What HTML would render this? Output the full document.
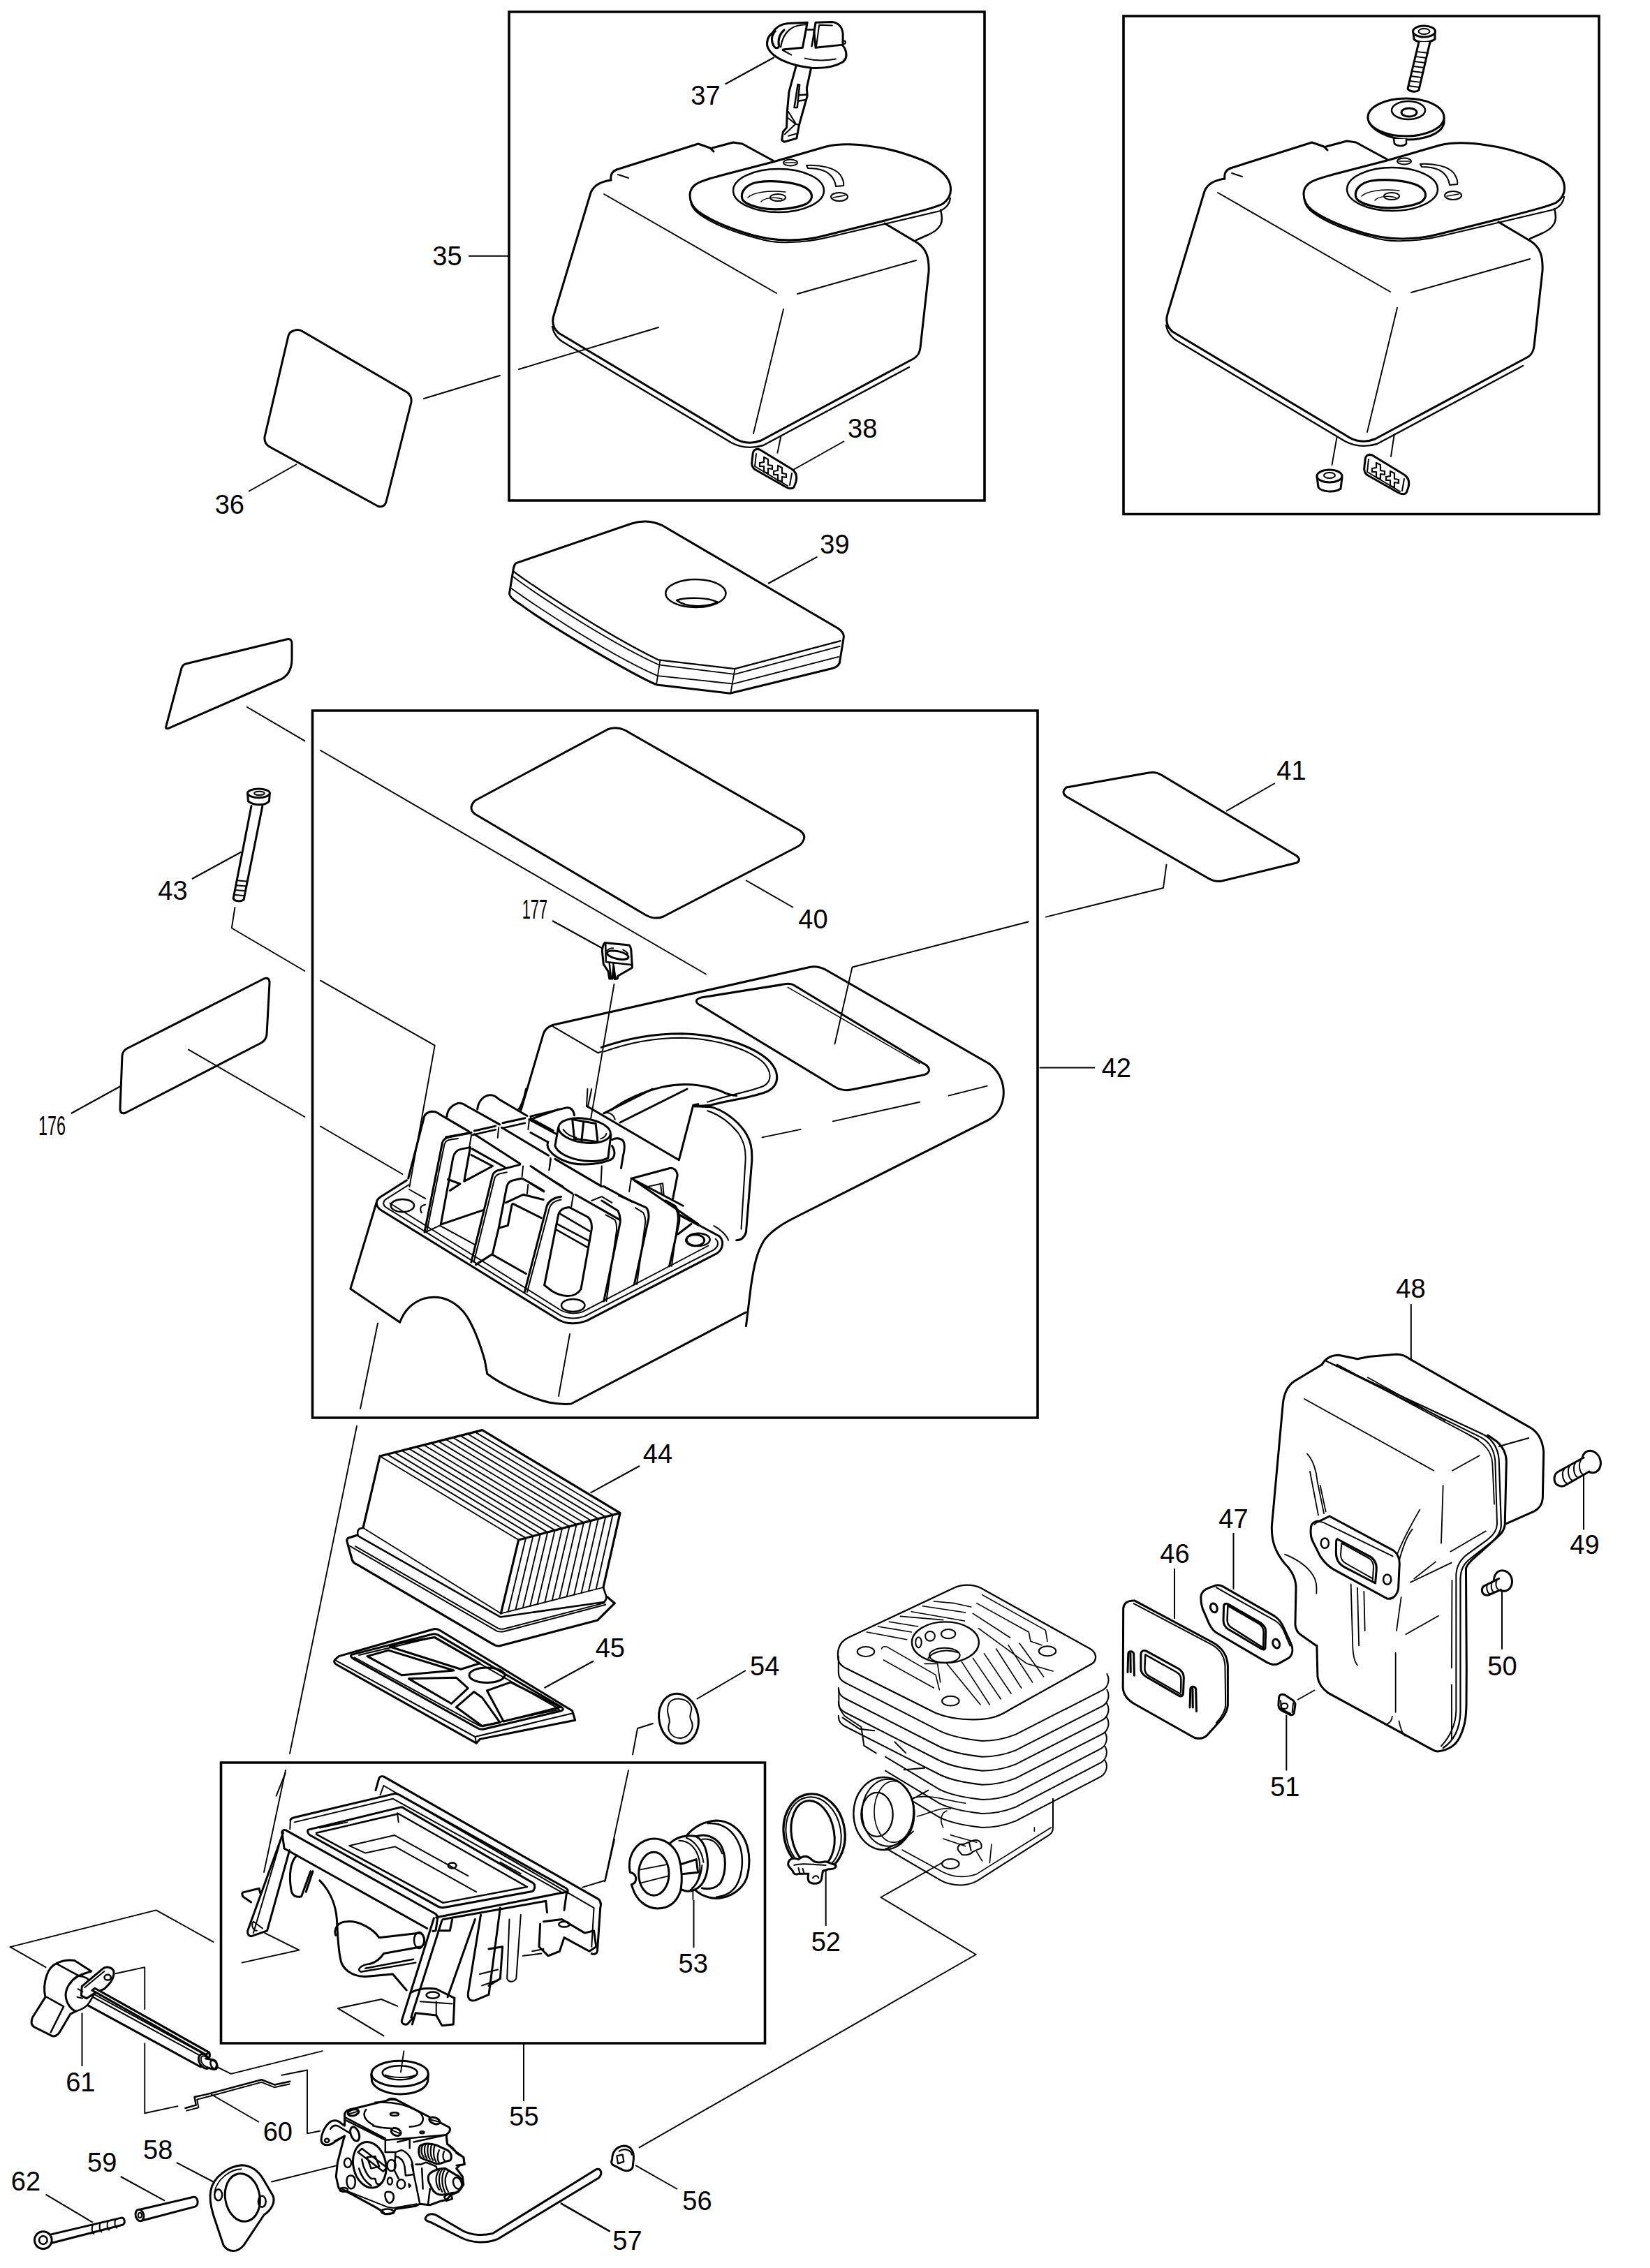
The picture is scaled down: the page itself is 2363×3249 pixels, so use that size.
<!DOCTYPE html><html><head><meta charset="utf-8"><style>html,body{margin:0;padding:0;background:#fff;}body{width:2363px;height:3249px;overflow:hidden;}svg{display:block;}.t{font-family:"Liberation Sans",sans-serif;font-size:38px;fill:#000;}path,line,ellipse,circle,polyline,polygon,rect{vector-effect:non-scaling-stroke;}</style></head><body>
<svg width="2363" height="3249" viewBox="0 0 2363 3249">
<rect x="0" y="0" width="2363" height="3249" fill="#fff"/>
<g fill="none" stroke="#000" stroke-width="3.6">
<rect x="729" y="17" width="681" height="700"/>
<rect x="1609" y="23" width="681" height="713.5"/>
<rect x="447.5" y="1018" width="1038.5" height="1013"/>
<rect x="316.5" y="2525" width="779.0" height="402"/>
</g>
<g stroke="#000" stroke-width="2" fill="none">
<line x1="671" y1="366.7" x2="728" y2="366.7"/>
<line x1="356" y1="704" x2="425" y2="665"/>
<line x1="1038.6" y1="120.5" x2="1109" y2="82"/>
<line x1="1209" y1="632" x2="1136" y2="673"/>
<line x1="1170.5" y1="797.7" x2="1100" y2="836"/>
<line x1="1136" y1="1300" x2="1068" y2="1261"/>
<line x1="1825.8" y1="1122" x2="1756" y2="1162"/>
<line x1="1488.6" y1="1529.5" x2="1568" y2="1529.5"/>
<line x1="275" y1="1259" x2="345.5" y2="1220.5"/>
<line x1="791" y1="1319" x2="863.6" y2="1359"/>
<line x1="101.8" y1="1595" x2="172.7" y2="1556"/>
<line x1="916" y1="2100" x2="845.5" y2="2138.6"/>
<line x1="850" y1="2379.5" x2="779.5" y2="2418"/>
<line x1="1682" y1="2247" x2="1682" y2="2319"/>
<line x1="1766.5" y1="2196" x2="1766.5" y2="2277"/>
<line x1="2020.8" y1="1868" x2="2020.8" y2="1949"/>
<line x1="2268" y1="2110.7" x2="2268" y2="2191.6"/>
<line x1="2151" y1="2277" x2="2151" y2="2362.7"/>
<line x1="1842.3" y1="2456.8" x2="1842.3" y2="2536.4"/>
<line x1="1182.7" y1="2672.7" x2="1182.7" y2="2759"/>
<line x1="993.5" y1="2722" x2="993.5" y2="2790"/>
<line x1="1068" y1="2393" x2="997.7" y2="2434"/>
<line x1="750" y1="2927" x2="750" y2="3010"/>
<line x1="970" y1="3136" x2="910" y2="3101.8"/>
<line x1="873" y1="3196.7" x2="803" y2="3156.7"/>
<line x1="252.7" y1="3098" x2="305.5" y2="3125.5"/>
<line x1="172.7" y1="3118" x2="236" y2="3152.7"/>
<line x1="371" y1="3040" x2="302" y2="3000"/>
<line x1="117.5" y1="2883.6" x2="117.5" y2="2960"/>
<line x1="65.5" y1="3143.6" x2="132.7" y2="3183.6"/>
</g>
<defs>
<g id="cover" fill="none" stroke="#000" stroke-linejoin="round" stroke-linecap="round">
 <!-- body outline -->
 <path stroke-width="3" d="M 883,243 L 1000,206 L 1017,212 L 1022,217 M 1020,212 L 1050,204 L 1063,206 L 1107,230"/>
 <path stroke-width="3" d="M 883,243 C 876,246 874,252 875,258 C 860,260 850,266 846,276 L 793,452 C 790,462 792,470 800,477 L 1049,626 C 1060,634 1075,637 1090,631 L 1308,514 C 1315,510 1317,505 1318,498 L 1330,390 C 1331,368 1326,356 1314,348 L 1267,320"/>
 <path stroke-width="2.4" d="M 791,468 C 793,479 799,486 808,491 L 1047,634 C 1060,641 1076,643 1093,638 L 1302,526"/>
 <!-- back right part -->
 <path stroke-width="2.5" d="M 1347,301 C 1349,308 1350,316 1347,322 C 1343,329 1338,332 1330,336 L 1312,344"/>
 <!-- plate -->
 <path stroke-width="3" fill="#fff" d="M 988,280 C 988,272 992,266 1000,262 C 1010,257 1020,255 1030,252 L 1107,232 L 1183,210 C 1200,206 1225,206 1250,210 C 1275,213 1300,221 1320,229 C 1340,237 1356,250 1360,262 C 1364,275 1360,285 1350,292 C 1340,298 1300,307 1267,316 L 1183,337 C 1165,342 1150,344 1130,344 C 1110,344 1085,340 1065,333 C 1040,325 1015,314 1000,303 C 991,296 988,288 988,280 Z"/>
 <path stroke-width="2.2" d="M 989,288 C 990,296 995,302 1002,307 C 1020,320 1045,331 1083,341 C 1100,346 1115,348 1130,347 C 1150,347 1170,344 1190,339 L 1347,302 C 1355,298 1360,292 1361,284"/>
 <ellipse stroke-width="2.5" cx="1115" cy="273" rx="65" ry="31"/>
 <path stroke-width="3.2" d="M 1063,285 C 1060,275 1068,264 1085,261 C 1105,258 1135,260 1152,268 C 1165,275 1166,285 1155,292 C 1140,299 1110,302 1090,298 C 1075,295 1065,290 1063,285 Z"/>
 <path stroke-width="1.5" d="M 1071,283 C 1078,276 1100,272 1125,275 M 1090,289 C 1095,283 1110,282 1120,285"/>
 <ellipse stroke-width="2" cx="1114" cy="283" rx="11" ry="5"/>
 <ellipse stroke-width="2" cx="1132" cy="233" rx="10" ry="4.5"/>
 <line stroke-width="1.5" x1="1124" y1="233" x2="1140" y2="233"/>
 <ellipse stroke-width="2" cx="1202" cy="282" rx="12" ry="6"/>
 <line stroke-width="1.5" x1="1193" y1="283" x2="1210" y2="280"/>
 <path stroke-width="2" d="M 1155,237 C 1175,236 1195,240 1203,250 C 1207,256 1209,262 1208,266 L 1197,267 C 1196,258 1190,248 1178,244 C 1170,241 1163,241 1157,241 Z"/>
 <!-- creases -->
 <path stroke-width="1.9" d="M 865,278 L 1112,420 M 1142,421 L 1312,373 M 1122,443 L 1079,621 M 885,250 L 900,255"/>
</g>
</defs>
<use href="#cover"/>
<use href="#cover" transform="translate(879,-2)"/>

<g transform="translate(1090,20) scale(0.084848)" fill="none" stroke="#000" stroke-linejoin="round" stroke-linecap="round">
 <path stroke-width="3" d="M 240,290 C 160,330 100,400 100,500 C 100,600 200,700 350,780 C 500,850 650,890 850,910 C 1050,920 1250,890 1380,810 C 1440,760 1450,680 1420,600 C 1405,560 1390,545 1375,530"/>
 <path stroke-width="3" d="M 190,320 C 250,220 330,170 450,160 L 780,145 L 700,570 L 370,600"/>
 <path stroke-width="2.2" d="M 760,180 C 550,185 380,260 330,560"/>
 <path stroke-width="3" d="M 220,310 C 170,380 170,480 220,550 C 250,590 300,580 300,540 C 280,420 320,330 390,270"/>
 <path stroke-width="2.5" d="M 780,265 L 895,265 M 900,280 L 855,545"/>
 <path stroke-width="3" d="M 895,300 L 920,145 L 1200,135 C 1310,150 1370,230 1380,330 L 1380,520 L 920,570 L 895,300"/>
 <path stroke-width="2" d="M 980,190 L 930,560 M 990,185 L 1200,195"/>
 <path stroke-width="2" d="M 360,610 L 510,690 M 740,750 C 900,790 1100,790 1260,760"/>
 <circle stroke-width="2" cx="1400" cy="480" r="25"/>
 <path stroke-width="3" d="M 590,880 L 480,1280 L 470,1320 L 440,1650 L 430,1920 L 370,1990 L 350,2130 L 390,2160 L 600,2100 L 640,1880 L 780,1380 L 770,1250 L 840,930"/>
 <path stroke-width="2.5" d="M 560,1580 L 620,1190 L 650,1195 L 610,1580 Z M 630,1370 L 770,1360 M 620,1470 L 760,1450"/>
 <path stroke-width="2" d="M 460,1650 L 590,1860 L 620,1870 M 460,1760 L 580,1860 L 400,2030 M 460,2060 L 600,2020"/>
</g>

<g fill="none" stroke="#000" stroke-linejoin="round" stroke-linecap="round">
 <!-- sheet 36 -->
 <path stroke-width="3" d="M 420,474 Q 426,471 432,474 L 583,562 Q 590,567 589,576 L 553,719 Q 550,728 541,725 L 386,640 Q 378,635 379,626 L 413,481 Q 415,475 420,474 Z"/>
 <!-- leaders through box A -->
 <path stroke-width="1.9" d="M 607,571 L 716,538 M 743,529 L 943,469"/>
 <path stroke-width="1.9" d="M 1118.5,624.5 L 1113.4,648.7"/>
 <!-- small sheet upper left -->
 <path stroke-width="3" d="M 266,951 L 410,916 Q 418,914 418,922 L 418,944 Q 418,968 398,975 L 242,1043 Q 236,1045 238,1040 L 260,957 Q 262,952 266,951 Z"/>
 <path stroke-width="1.9" d="M 353.6,1012.7 L 436.4,1061.4 M 459,1075 L 1011,1395.5"/>
 <!-- bolt 43 leaders -->
 <path stroke-width="1.9" d="M 336.4,1300 L 331.8,1329.5 L 436.4,1391 M 459,1404.7 L 622.7,1497.7 L 586.4,1700"/>
 <!-- sheet 176 -->
 <path stroke-width="3" d="M 182,1502 L 378,1402 Q 386,1399 386,1408 L 382,1482 Q 381,1490 374,1494 L 180,1594 Q 172,1597 172,1588 L 175,1512 Q 176,1505 182,1502 Z"/>
 <path stroke-width="1.9" d="M 270,1503.6 L 436.4,1600 M 459,1613.5 L 576.4,1682"/>
 <!-- sheet 40 -->
 <path stroke-width="3" d="M 680,1147 L 870,1045 Q 882,1040 895,1046 L 1146,1190 Q 1155,1197 1150,1205 Q 1148,1210 1140,1214 L 950,1313 Q 938,1318 925,1311 L 680,1166 Q 670,1158 680,1147 Z"/>
 <!-- sheet 41 -->
 <path stroke-width="3" d="M 1527,1128 L 1645,1107 Q 1655,1105 1663,1110 L 1857,1226 Q 1864,1232 1857,1236 L 1750,1262 Q 1740,1264 1730,1258 L 1527,1141 Q 1519,1135 1527,1128 Z"/>
 <path stroke-width="1.9" d="M 1670.5,1238.6 L 1666,1272 L 1497.7,1313.6 M 1472.7,1320.5 L 1220.5,1385.5 L 1195.5,1495.5"/>
 <!-- 177 leader down -->
 <path stroke-width="1.9" d="M 879.5,1410 L 841,1632"/>
</g>

<g transform="translate(700,700) scale(0.454545)" fill="none" stroke="#000" stroke-linejoin="round" stroke-linecap="round">
 <path stroke-width="3" d="M 85,235 L 450,110 C 480,100 510,100 545,115 L 1100,440 C 1115,450 1120,460 1118,470 L 1105,550 C 1100,560 1090,565 1080,567 L 760,645 L 530,618 C 480,600 200,440 100,365 C 75,350 65,340 65,330 L 78,250 C 80,242 82,238 85,235 Z"/>
 <path stroke-width="2.2" d="M 80,262 C 100,280 350,450 535,540 L 775,568 L 1108,480"/>
 <path stroke-width="1.8" d="M 78,278 C 100,298 350,470 535,555 L 775,585 L 1106,497"/>
 <path stroke-width="1.8" d="M 72,315 C 100,335 350,510 532,590 L 770,615 L 1102,530"/>
 <path stroke-width="1.8" d="M 540,540 L 528,618 M 775,570 L 762,645"/>
 <ellipse stroke-width="2.5" cx="652" cy="330" rx="95" ry="44"/>
 <path stroke-width="2.5" d="M 592,352 C 620,342 690,342 720,357 C 690,375 620,375 592,352 Z"/>
</g>
<g transform="translate(150,700) scale(0.454545)" fill="none" stroke="#000" stroke-linejoin="round" stroke-linecap="round">
 <!-- bolt 43 -->
 <ellipse stroke-width="3" cx="485" cy="960" rx="35" ry="14"/>
 <ellipse stroke-width="2" cx="487" cy="960" rx="16" ry="6"/>
 <path stroke-width="3" d="M 450,960 L 452,985 C 470,1000 505,1000 518,985 L 520,960"/>
 <path stroke-width="3" d="M 462,1000 L 405,1292 C 412,1302 430,1302 438,1295 L 497,1000"/>
 <path stroke-width="2" d="M 417,1235 L 450,1238 M 413,1250 L 447,1253 M 410,1265 L 444,1268 M 407,1280 L 441,1283"/>
</g>

<defs>
<g id="grommet" fill="none" stroke="#000" stroke-linejoin="round" stroke-linecap="round">
 <path stroke-width="3" fill="#fff" d="M 1078,652 C 1078,645 1082,642 1088,644 L 1134,672 C 1140,676 1142,682 1140,690 L 1137,698 C 1134,701 1130,700 1126,698 L 1082,673 C 1077,670 1076,665 1077,660 Z"/>
 <path stroke-width="2" d="M 1083,650 L 1081,668 M 1081,668 L 1128,696 M 1134,678 L 1131,695"/>
 <path stroke-width="2.2" d="M 1094,655 L 1094,662 L 1088,663 L 1088,668 L 1094,668 L 1094,676 L 1100,678 L 1100,671 L 1106,672 L 1106,667 L 1100,666 L 1100,658 Z"/>
 <path stroke-width="2.2" d="M 1114,667 L 1114,674 L 1108,675 L 1108,680 L 1114,680 L 1114,688 L 1120,690 L 1120,683 L 1126,684 L 1126,679 L 1120,678 L 1120,670 Z"/>
</g>
</defs>
<use href="#grommet"/>
<use href="#grommet" transform="translate(877,8)"/>
<g fill="none" stroke="#000" stroke-linejoin="round" stroke-linecap="round">
 <!-- box B screw -->
 <path stroke-width="3" fill="#fff" d="M 2024,46 L 2025,56 C 2030,62 2048,62 2055,56 L 2055,46"/>
 <ellipse stroke-width="3" fill="#fff" cx="2039.5" cy="45" rx="16" ry="8"/>
 <ellipse stroke-width="2" cx="2039.5" cy="45" rx="8" ry="4"/>
 <path stroke-width="3" fill="#fff" d="M 2032,60 L 2016,127 C 2018,131 2028,133 2032,129 L 2048,60"/>
 <path stroke-width="1.8" d="M 2029,74 L 2045,76 M 2027,81 L 2043,83 M 2025,88 L 2041,90 M 2024,95 L 2040,97 M 2022,102 L 2038,104 M 2020,109 L 2036,111 M 2019,116 L 2035,118 M 2017,123 L 2033,125"/>
 <!-- washer -->
 <path stroke-width="3" fill="#fff" d="M 1959,169 L 1961,176 C 1970,192 2000,200 2015,200 C 2040,200 2065,192 2068,176 L 2068,169"/>
 <ellipse stroke-width="3" fill="#fff" cx="2013.5" cy="168" rx="54.5" ry="27"/>
 <ellipse stroke-width="2.5" cx="2017" cy="158" rx="24" ry="13"/>
 <ellipse stroke-width="3" cx="2018" cy="161" rx="11" ry="6"/>
 <path stroke-width="2.5" fill="#fff" d="M 1996,199 L 1997,206 C 2002,210 2010,210 2014,206 L 2014,199"/>
 <!-- small nut/grommet bottom left of box B -->
 <path stroke-width="3" fill="#fff" d="M 1886,683 L 1888,698 C 1892,704 1910,707 1920,700 L 1922,684"/>
 <ellipse stroke-width="3" fill="#fff" cx="1904" cy="682" rx="18" ry="9"/>
 <ellipse stroke-width="2" cx="1904" cy="681" rx="8" ry="4"/>
 <path stroke-width="1.9" d="M 1914.5,626.6 L 1907.5,666 M 1996.8,622 L 1992,654"/>
</g>

<g transform="translate(840,1330) scale(0.054545)" fill="none" stroke="#000" stroke-linejoin="round" stroke-linecap="round">
 <path stroke-width="3" d="M 480,375 L 1120,440 C 1150,470 1165,520 1170,560 L 1200,1030 L 820,1250 L 810,1320 L 740,1330 L 710,1000 L 680,1320 L 600,1320 L 570,1130 L 445,940 L 410,600 C 415,500 440,420 480,375 Z"/>
 <path stroke-width="2.5" d="M 500,420 L 510,880 L 1200,960 M 600,910 L 640,1300 M 700,920 L 760,1300"/>
 <ellipse stroke-width="3" cx="820" cy="700" rx="285" ry="100" transform="rotate(12 820 700)"/>
 <path stroke-width="2" d="M 540,580 C 580,540 640,520 700,520 M 960,560 C 1020,590 1060,620 1080,660"/>
</g>
<g fill="none" stroke="#000" stroke-width="1.9" stroke-linecap="round">
 <path d="M 866,2695.5 L 900,2536"/>
</g>

<g transform="translate(480,1450) scale(0.363636)" fill="none" stroke="#000" stroke-linejoin="round" stroke-linecap="round">
 <!-- flange -->
 <path stroke-width="3" d="M 282,662 L 178,728 C 158,742 158,762 178,778 L 880,1212 C 910,1228 950,1230 990,1216 L 1500,952 C 1530,935 1532,900 1512,882 L 1360,800"/>
 <path stroke-width="2" d="M 290,680 L 198,738 C 186,748 188,762 202,770 L 890,1196 C 915,1207 950,1209 982,1198 L 1488,938 C 1510,925 1512,905 1498,893"/>
 <path stroke-width="1.8" d="M 215,752 L 890,1175 C 915,1188 950,1190 975,1180 L 1470,920"/>
 <ellipse stroke-width="2.5" cx="265" cy="762" rx="46" ry="25"/>
 <ellipse stroke-width="2.5" cx="937" cy="1155" rx="46" ry="25"/>
 <ellipse stroke-width="2.5" cx="1430" cy="896" rx="46" ry="25"/>
 <path stroke-width="2" d="M 340,790 C 330,770 340,760 355,758"/>
 <!-- front body -->
 <path stroke-width="3" d="M 162,752 L 60,1090 L 255,1222 C 270,1180 300,1145 350,1128 C 420,1110 480,1140 520,1200 C 550,1250 575,1320 590,1375"/>
 
</g>

<g transform="translate(700,1360) scale(0.460526)" fill="none" stroke="#000" stroke-linejoin="round" stroke-linecap="round">
 <!-- outer -->
 <path stroke-width="3" d="M 100,500 L 170,262 C 175,248 185,240 200,235 L 1000,55 C 1015,52 1030,55 1045,62 L 1555,355 C 1590,380 1605,420 1600,460 C 1595,495 1580,515 1555,530 L 960,830 C 920,850 885,870 860,900 C 835,935 825,980 815,1050 L 800,1172"/>
 <!-- tower inner/front edge -->
 <path stroke-width="2" d="M 200,240 L 340,322 L 350,318"/>
 <!-- opening -->
 <path stroke-width="3" d="M 350,305 C 420,280 500,262 600,262 C 720,265 820,300 870,345 C 905,380 905,420 870,440 C 830,460 740,470 690,485 L 640,488"/>
 <path stroke-width="2" d="M 358,318 C 430,292 510,275 600,275 C 710,278 805,310 852,350 C 880,378 882,410 855,425 C 820,440 740,455 680,475"/>
 <path stroke-width="3" d="M 380,500 C 420,470 470,445 540,428 C 600,415 660,418 720,440 C 740,450 760,455 770,455"/>
 
 <!-- step / right face -->
 <path stroke-width="3" d="M 640,488 L 690,490 C 730,500 770,530 795,565 C 815,595 820,620 818,660 L 800,880 C 795,895 785,905 770,905"/>
 <path stroke-width="2" d="M 680,502 C 720,515 750,540 775,570 C 795,600 800,625 798,660 L 785,870 M 700,860 C 720,870 740,890 745,905"/>
 <!-- recessed panel -->
 <path stroke-width="3" d="M 660,150 L 920,108 C 935,105 945,108 955,115 L 1360,360 C 1375,372 1370,385 1355,390 L 1130,436 C 1110,440 1095,438 1080,430 L 660,175 C 640,165 642,155 660,150 Z"/>
 <path stroke-width="1.5" d="M 930,118 L 1340,355 M 690,145 L 910,112"/>
 <!-- dashed lines -->
 <path stroke-width="1.8" d="M 850,585 L 970,560 M 1070,535 L 1340,475 M 1430,455 L 1550,425"/>
</g>

<g transform="translate(560,1560) scale(0.145455)" fill="none" stroke="#000" stroke-linejoin="round" stroke-linecap="round">
 <path stroke-width="3" d="M 170,880 L 320,300 C 325,250 360,225 410,222 C 440,222 460,235 480,250 L 770,420"/>
 <path stroke-width="3" d="M 550,270 C 555,200 600,160 660,140 C 700,135 720,150 740,165 L 1070,350"/>
 <path stroke-width="3" d="M 850,200 C 860,110 920,60 980,60 C 1010,60 1040,80 1060,100 L 1340,265"/>
 <path stroke-width="3" d="M 1250,210 C 1300,150 1320,50 1330,0"/>
 <path stroke-width="3" d="M 540,475 L 790,430 M 820,412 L 1030,365 M 1100,335 L 1320,287 M 1400,290 L 1650,200"/>
 <path stroke-width="2.5" d="M 790,455 L 1030,400 M 1100,385 L 1320,335"/>
 <path stroke-width="3" d="M 330,1410 L 505,530 C 515,495 540,478 575,472 L 790,432"/>
 <path stroke-width="2" d="M 352,1405 L 525,548 C 533,518 552,503 585,498 L 660,488"/>
 <path stroke-width="3" d="M 490,1335 L 610,680 C 620,630 650,600 690,592 L 780,575 L 720,910 L 1000,760 L 790,650 M 490,1335 L 900,1195 M 560,890 L 680,935 L 580,1000"/>
 <path stroke-width="3" d="M 820,445 L 1270,735 M 800,590 L 1120,770 M 1090,380 L 1550,655 M 1360,300 L 1620,440"/>
 <path stroke-width="2" d="M 1060,380 L 1050,480 M 790,460 L 770,580 M 1360,310 L 1350,400 M 1300,760 L 1290,860 M 1350,940 L 1340,1030 M 1570,680 L 1560,790"/>
 <path stroke-width="3" d="M 790,1705 L 1000,850 C 1010,820 1040,800 1080,795 L 1270,745"/>
 <path stroke-width="2" d="M 815,1705 L 1020,880 C 1030,850 1060,832 1100,828 L 1140,820"/>
 <path stroke-width="3" d="M 1060,1370 L 1140,960 C 1150,920 1180,900 1220,895 L 1290,880 L 1500,1000 M 1130,1120 L 1300,1040 L 1500,1090 M 1200,1130 L 1480,1270 M 1000,1622 L 1060,1370 M 1000,1633 L 1330,1820 M 835,1730 L 1000,1625 M 1060,1370 L 1150,1345 L 1190,1140"/>
 
 <path stroke-width="2" d="M 180,990 L 340,1080 M 340,1410 L 480,1345 L 820,1530"/>
 
 
</g>
<g transform="translate(760,1560) scale(0.145455)" fill="none" stroke="#000" stroke-linejoin="round" stroke-linecap="round">
 <path stroke-width="3" d="M 0,270 L 350,185 C 390,180 420,200 430,260 M 0,290 L 220,410 M 0,430 L 200,540"/>
 <path stroke-width="3" d="M 555,170 L 1460,700 M 720,240 L 1200,0 M 880,330 L 1540,0 M 1460,700 L 1600,160 L 1650,150"/>
 <path stroke-width="2" d="M 560,0 L 550,170 M 600,0 L 565,165 M 720,240 C 780,220 820,260 830,300"/>
 <!-- socket -->
 <path stroke-width="3" fill="#fff" d="M 170,520 C 140,600 250,690 400,730 C 550,760 700,730 780,700 C 830,680 840,620 800,560"/>
 <path stroke-width="3" fill="#fff" d="M 272,380 L 240,560 C 280,680 600,760 762,680 L 790,450"/>
 <ellipse stroke-width="3" fill="#fff" cx="530" cy="410" rx="258" ry="118" transform="rotate(8 530 410)"/>
 <path stroke-width="2" d="M 320,400 C 350,440 400,470 450,480 M 690,490 C 720,480 740,460 745,440"/>
 <path stroke-width="3" d="M 410,300 L 640,340 L 660,520 L 430,490 Z M 520,330 L 500,520"/>
 <path stroke-width="3" d="M 800,500 C 830,480 880,480 910,510 C 930,540 925,600 910,660 L 890,780"/>
 <!-- grid right -->
 <path stroke-width="3" d="M 1000,880 L 1370,780 C 1410,775 1440,800 1445,850 L 1400,1080"/>
 <path stroke-width="2" d="M 1160,960 L 1300,930 L 1310,1040 M 1280,950 L 1290,1030"/>
 <path stroke-width="3" d="M 240,690 L 700,960 M 720,960 L 1000,1110 M 0,760 L 410,1030 M 440,1040 L 880,1290 M 990,880 L 1500,1150 M 1020,900 L 1650,1330 M 0,930 L 130,1010"/>
 <path stroke-width="2" d="M 200,690 L 180,800 M 700,760 L 690,960 M 420,1040 L 400,1160 M 990,880 L 970,1010 M 100,830 L 320,960 M 600,1100 L 700,1060 L 800,1120"/>
 <path stroke-width="3" d="M -60,2000 L 160,1150 C 180,1100 230,1070 300,1060"/>
 <path stroke-width="2" d="M -35,2000 L 185,1170 C 200,1125 240,1100 300,1090"/>
 <path stroke-width="3" d="M 135,1933 L 270,1251 C 280,1190 320,1170 380,1165 L 560,1260 C 600,1290 605,1330 600,1380 L 495,1971 C 470,2010 420,2040 360,2039 C 300,2035 250,2015 210,1990 Z"/>
 <path stroke-width="2.5" d="M 290,1230 L 580,1400 M 260,1330 L 580,1500 M 250,1385 L 560,1560"/>
 <path stroke-width="3" d="M 700,1100 L 860,1200 C 880,1240 885,1280 880,1320 L 720,2090 M 870,1050 L 1140,1170 C 1160,1200 1165,1240 1160,1280 L 1020,1925 M 1330,1100 L 1420,1150 C 1460,1200 1470,1260 1460,1320 L 1365,1745"/>
 <path stroke-width="2" d="M 740,1240 L 830,1290 C 845,1320 850,1350 845,1400 L 745,2090 M 1030,1170 L 1110,1220 C 1130,1260 1132,1290 1128,1320 L 1045,1925 M 1340,1110 L 1430,1180 C 1450,1220 1452,1260 1448,1300 L 1388,1745"/>
 <path stroke-width="3" d="M 1480,1250 L 1650,1340 M 1450,1430 L 1580,1330"/>
 <ellipse stroke-width="3" cx="1620" cy="1490" rx="90" ry="55"/>
</g>

<g fill="none" stroke="#000" stroke-linejoin="round" stroke-linecap="round">
 <path stroke-width="3" d="M 694.5,1950 L 697.7,1968 C 720,1985 760,2003 786,2009 C 797,2011 808,2012 818,2011 L 1068,1880"/>
 <path stroke-width="1.9" d="M 816,1911 L 800,2000 M 541,1895.5 L 516,2018 M 511,2042.7 L 415,2512 M 409,2536 L 378,2682"/>
</g>

<g transform="translate(480,2030) scale(0.266667)" fill="none" stroke="#000" stroke-linejoin="round" stroke-linecap="round">
 <path stroke-width="1.9" d="M 279,200 L 1024,650 M 319,190 L 1063,639 M 358,180 L 1102,629 M 397,170 L 1141,619 M 436,160 L 1180,608 M 476,150 L 1219,598 M 515,140 L 1258,588 M 554,130 L 1296,577 M 594,120 L 1335,567 M 633,110 L 1374,556 M 672,100 L 1413,546 M 711,90 L 1452,536 M 751,80 L 1491,525 M 1024,650 L 929,1045 M 1063,639 L 969,1035 M 1102,629 L 1008,1025 M 1141,619 L 1047,1015 M 1180,608 L 1086,1005 M 1219,598 L 1126,995 M 1258,588 L 1165,985 M 1296,577 L 1204,975 M 1335,567 L 1244,965 M 1374,556 L 1283,955 M 1413,546 L 1322,945 M 1452,536 L 1361,935 M 1491,525 L 1401,925 M 240,210 L 985,660"/>
 <path stroke-width="3.2" d="M 240,210 L 790,70 L 1530,515 L 1440,915 M 985,660 L 1530,515 M 985,660 L 890,1055 M 240,210 L 150,595"/>
 <path stroke-width="1.8" d="M 150,595 L 890,1055 L 1440,915"/>
 <path stroke-width="2.5" d="M 150,595 L 130,600 C 118,610 118,630 125,640 L 887,1074 L 1444,994 C 1455,985 1457,970 1455,960 L 1440,915"/>
 <path stroke-width="2" d="M 110,695 L 875,1135 C 885,1140 900,1140 910,1137 L 1448,998"/>
 <path stroke-width="2" d="M 74,690 L 869,1150 C 880,1154 895,1154 905,1152 L 1452,1008"/>
 <path stroke-width="3.2" d="M 114,636 L 70,650 C 62,655 62,662 64,670 L 91,767 C 95,780 105,787 114,790 L 841,1216 C 855,1226 866,1230 881,1230 L 1410,1091 L 1501,1000 L 1461,966"/>
</g>
<g transform="translate(470,2320) scale(0.339394)" fill="none" stroke="#000" stroke-linejoin="round" stroke-linecap="round">
 <path stroke-width="3" d="M 45,155 L 440,42 C 452,38 462,40 470,45 L 1030,385 L 1042,425 L 640,505 L 625,522 L 35,190 C 25,185 22,175 30,168 Z"/>
 <path stroke-width="2" d="M 30,172 L 620,495 L 1035,395 M 620,495 L 625,522"/>
 <path stroke-width="3" d="M 100,148 L 440,62 C 450,60 458,62 465,66 L 985,370 C 995,378 992,383 982,386 L 660,462 C 648,465 638,463 630,458 L 110,168 C 95,160 92,152 100,148 Z"/>
 <path stroke-width="2" d="M 130,150 L 445,75 L 970,375 M 110,160 L 640,450 L 975,380"/>
 <ellipse stroke-width="3" cx="670" cy="235" rx="75" ry="32"/>
 <path stroke-width="3" d="M 165,155 L 255,130 L 530,215 L 310,235 Z"/>
 <path stroke-width="3" d="M 260,115 L 300,100 L 450,75 L 640,185 L 560,210 Z"/>
 <path stroke-width="3" d="M 340,250 L 540,245 L 590,290 L 520,355 Z"/>
 <path stroke-width="3" d="M 540,370 L 615,305 L 650,330 L 725,435 L 650,450 Z"/>
 <path stroke-width="3" d="M 670,300 L 770,265 L 980,370 L 740,430 Z"/>
</g>
<g fill="none" stroke="#000" stroke-linejoin="round" stroke-linecap="round">
 <ellipse stroke-width="3" cx="972" cy="2462" rx="28" ry="36" transform="rotate(-12 972 2462)"/>
 <path stroke-width="2" d="M 958,2440 C 965,2430 985,2432 990,2445 C 992,2452 985,2458 990,2465 C 995,2475 988,2488 975,2490 C 962,2490 955,2480 958,2470 C 962,2462 952,2455 958,2440 Z"/>
 <path stroke-width="1.9" d="M 935,2469 L 913,2476 L 906,2513.5"/>
</g>

<g transform="translate(1180,2250) scale(0.266667)" fill="none" stroke="#000" stroke-linejoin="round" stroke-linecap="round">
 <!-- top plate -->
 <path stroke-width="2.3" fill="#fff" d="M 75,460 C 72,410 90,380 130,360 L 700,92 C 740,72 800,72 840,92 L 1430,420 C 1465,440 1468,480 1440,500 L 1000,745 C 930,790 880,800 800,800 C 720,800 660,790 600,765 L 110,520 C 85,505 75,490 75,460 Z"/>
 <path stroke-width="2.0" d="M 78,545 C 78,575 90,590 120,605 L 620,860 C 680,890 760,905 850,915 C 920,915 980,900 1030,880 L 1500,640 C 1530,620 1535,580 1520,555 M 78,630 C 78,660 90,675 120,690 L 620,945 C 680,975 760,990 850,1000 C 920,1000 980,985 1030,965 L 1500,725 C 1530,705 1535,665 1520,640 M 78,705 C 78,735 90,750 120,765 L 620,1020 C 680,1050 760,1065 850,1075 C 920,1075 980,1060 1030,1040 L 1500,800 C 1530,780 1535,740 1520,715 M 78,780 C 78,810 90,825 120,840 L 620,1095 C 680,1125 760,1140 850,1150 C 920,1150 980,1135 1030,1115 L 1500,875 C 1530,855 1535,815 1520,790"/>
 <path stroke-width="2.0" d="M 330,1000 L 620,1175 C 680,1205 760,1220 850,1230 C 920,1230 980,1215 1030,1195 L 1490,955 C 1520,935 1525,895 1510,870 M 330,1075 L 620,1250 C 680,1280 760,1295 850,1305 C 920,1305 980,1290 1030,1270 L 1490,1030 C 1520,1010 1525,970 1510,945 M 330,1150 L 620,1325 C 680,1355 760,1370 850,1380 C 920,1380 980,1365 1030,1345 L 1490,1105 C 1520,1085 1525,1045 1510,1020"/>
 <path stroke-width="2.0" d="M 78,545 L 78,460 M 80,640 L 80,720 C 80,740 95,760 110,780 L 200,840 L 215,940 L 280,980 M 100,790 L 190,850 L 270,860"/>
 <path stroke-width="2.0" d="M 380,920 L 440,980 M 430,1070 L 540,1060"/>
 <!-- bore -->
 <ellipse stroke-width="2.3" cx="652" cy="385" rx="180" ry="110"/>
 <path stroke-width="2.0" d="M 560,470 C 590,430 660,420 720,440"/>
 <ellipse stroke-width="2.0" cx="648" cy="455" rx="82" ry="40"/>
 <ellipse stroke-width="2.0" cx="508" cy="385" rx="16" ry="28"/>
 <ellipse stroke-width="2.0" cx="570" cy="352" rx="26" ry="26"/>
 <ellipse stroke-width="2.0" cx="668" cy="340" rx="38" ry="25"/>
 <ellipse stroke-width="2.0" cx="225" cy="435" rx="46" ry="26"/>
 <ellipse stroke-width="2.0" cx="1200" cy="432" rx="46" ry="26"/>
 <ellipse stroke-width="2.0" cx="680" cy="700" rx="46" ry="26"/>
 <!-- top fins lines -->
 <path stroke-width="1.6" d="M 230,330 L 445,370 M 290,300 L 470,330 M 350,275 L 505,300 M 410,245 L 640,265 M 470,220 L 755,270 M 530,190 L 760,225 M 590,165 L 700,175 L 790,195"/>
 <path stroke-width="1.6" d="M 850,130 L 1190,320 L 1200,380 M 820,175 L 1100,330 L 1110,380 L 1170,400 M 800,230 L 1000,360 M 830,310 L 1090,500 L 1230,540"/>
 <path stroke-width="1.6" d="M 660,500 L 840,720 M 740,490 L 890,720 M 800,470 L 950,690 M 860,445 L 1005,660 M 925,420 L 1060,630 M 990,400 L 1120,600 M 1050,390 L 1180,570"/>
 <path stroke-width="1.6" d="M 320,480 L 590,630 M 310,420 C 310,410 320,405 340,410 L 600,560 L 620,640 M 540,500 L 610,500 L 625,600"/>
 <!-- crankcase -->
 <path stroke-width="2.0" d="M 330,1490 L 620,1660 C 660,1685 700,1692 750,1688 C 780,1685 800,1678 820,1668 L 1210,1420 C 1225,1410 1230,1395 1230,1380 L 1230,1225"/>
 <path stroke-width="1.6" d="M 420,1500 L 640,1620 C 700,1650 760,1650 820,1630 L 1220,1380 M 900,1470 L 890,1570 M 1130,1380 L 1130,1400 M 480,1220 C 560,1200 640,1230 760,1250 M 500,1320 C 580,1300 620,1270 680,1280"/>
 <path stroke-width="2.0" d="M 720,1500 C 715,1480 730,1465 750,1470 L 800,1450 C 830,1440 850,1460 845,1490 L 800,1510 C 790,1525 760,1530 740,1525 Z M 780,1460 L 790,1505"/>
 <ellipse stroke-width="2.0" cx="680" cy="1575" rx="46" ry="26"/>
 <path stroke-width="1.6" d="M 640,1440 L 760,1480 M 680,1420 L 820,1460 M 820,1510 L 850,1560 M 640,1380 C 620,1340 630,1300 660,1290"/>
 <!-- intake port -->
 <ellipse stroke-width="2.3" cx="322" cy="1305" rx="163" ry="195" fill="#fff"/>
 <ellipse stroke-width="2.0" cx="345" cy="1300" rx="140" ry="180"/>
 <ellipse stroke-width="1.6" cx="375" cy="1295" rx="105" ry="165"/>
 <ellipse stroke-width="2.3" cx="285" cy="1310" rx="85" ry="118"/>
 <path stroke-width="2.0" d="M 330,1495 C 380,1480 440,1440 480,1400 M 470,1230 L 560,1180"/>
</g>
<g transform="translate(890,2540) scale(0.206061)" fill="none" stroke="#000" stroke-linejoin="round" stroke-linecap="round">
 <!-- manifold 53 big flange -->
 <path stroke-width="3" fill="#fff" d="M 450,440 C 500,370 580,335 660,330 C 740,330 820,380 860,470 C 895,550 895,650 870,730 C 840,810 760,860 680,870 C 600,875 540,845 500,800 Z"/>
 <path stroke-width="2.5" d="M 600,350 C 700,340 780,400 820,500 C 850,580 845,700 800,780 C 770,830 720,855 660,862"/>
 <path stroke-width="3" d="M 520,440 C 580,420 650,440 690,500 C 730,570 730,690 690,760 C 660,800 610,810 560,800"/>
 <path stroke-width="2" d="M 560,460 C 620,450 670,480 700,560"/>
 <!-- neck -->
 <path stroke-width="3" fill="#fff" d="M 330,495 C 380,445 450,425 520,440 C 570,470 600,540 600,640 C 595,730 560,790 510,810 C 470,830 430,820 400,800 Z"/>
 <path stroke-width="2" d="M 400,470 C 470,470 520,520 540,600 C 555,680 540,760 490,800 M 450,450 C 510,470 560,540 570,620 M 470,820 C 520,790 555,720 560,640"/>
 <!-- tab -->
 <path stroke-width="3" fill="#fff" d="M 380,665 C 375,640 395,628 420,632 L 520,600 L 532,690 L 420,702 C 395,703 382,690 380,665 Z"/>
 <!-- front flange -->
 <path stroke-width="3" fill="#fff" d="M 60,690 C 40,600 80,485 200,458 C 290,445 370,500 400,590 C 420,660 425,750 410,820 C 385,895 330,940 250,942 C 170,938 105,885 78,800 L 70,775 C 92,768 104,752 100,725 C 95,705 78,693 60,690 Z"/>
 <ellipse stroke-width="3" cx="225" cy="700" rx="105" ry="150"/>
 <path stroke-width="1.8" d="M 130,672 L 312,636 M 140,762 L 322,716"/>
 <path stroke-width="1.8" d="M 497,820 L 497,880"/>
 <!-- clamp 52 -->
 <ellipse stroke-width="3.2" cx="1340" cy="415" rx="212" ry="272" transform="rotate(-10 1340 415)"/>
 <ellipse stroke-width="2" cx="1335" cy="420" rx="190" ry="255" transform="rotate(-10 1335 420)"/>
 <ellipse stroke-width="3" cx="1330" cy="425" rx="148" ry="235" transform="rotate(-10 1330 425)"/>
 <path stroke-width="3" fill="#fff" d="M 1165,610 C 1180,590 1210,590 1230,600 C 1260,575 1290,570 1320,600 C 1350,630 1390,620 1420,615 L 1490,640 C 1495,660 1470,670 1440,668 L 1400,680 L 1390,740 C 1380,770 1340,775 1310,760 C 1290,745 1295,720 1300,700 L 1230,700 C 1210,710 1195,700 1190,680 L 1165,650 C 1155,640 1158,620 1165,610 Z"/>
 <path stroke-width="2" d="M 1200,640 C 1260,620 1330,640 1420,640 M 1230,660 L 1240,700 M 1260,665 L 1270,700 M 1330,730 C 1340,710 1365,710 1370,730"/>
</g>

<g fill="none" stroke="#000" stroke-width="1.9" stroke-linejoin="round" stroke-linecap="round">
 <path d="M 1350,2668 L 1261.4,2718 L 1397.7,2800 L 915.5,3076.4"/>
</g>

<g transform="translate(1800,1920) scale(0.266667)" fill="none" stroke="#000" stroke-linejoin="round" stroke-linecap="round">
 <path stroke-width="3" d="M 350,130 C 370,95 400,80 440,80 L 540,100 L 600,88 L 750,75 C 780,75 800,85 820,100 L 1470,470 C 1510,495 1535,540 1540,600 L 1535,850 C 1532,880 1515,905 1490,918 L 1340,985"/>
 <path stroke-width="3" d="M 350,130 L 200,220 C 165,245 145,290 140,340 L 80,1000 C 78,1080 100,1140 150,1200 C 190,1240 210,1280 210,1330 L 206,1528 C 210,1560 222,1575 240,1585 L 318,1640"/>
 <path stroke-width="3" d="M 322,1640 L 326,1807 C 330,1840 350,1870 382,1894 L 938,2197 C 950,2205 960,2209 972,2209 C 1000,2205 1030,2195 1050,2180 C 1080,2160 1100,2120 1115,2060 C 1122,2030 1124,2000 1125,1960 L 1126,1762 L 1123,1225 C 1130,1200 1160,1175 1200,1140 L 1300,1050 C 1322,1030 1330,1010 1332,990 L 1340,650 C 1340,610 1320,570 1290,545 L 1240,510"/>
 <path stroke-width="2.2" d="M 372,112 L 1215,505 C 1265,530 1295,580 1300,640 L 1312,990 C 1312,1030 1292,1060 1252,1090 L 1150,1170 C 1110,1200 1095,1230 1093,1280 L 1093,2000 C 1090,2080 1060,2150 1000,2190"/>
 <path stroke-width="2" d="M 395,122 L 1200,520 C 1250,545 1275,590 1280,650 L 1290,985 C 1290,1020 1272,1045 1240,1070 L 1130,1150 C 1090,1180 1072,1215 1070,1260 L 1070,1990 C 1068,2060 1045,2120 990,2180"/>
 <path stroke-width="1.8" d="M 430,130 L 1190,535 M 1140,510 C 1230,555 1260,600 1265,660 L 1275,880 M 1048,1290 L 1046,1760 M 1046,1850 L 1046,2140"/>
 <path stroke-width="2" d="M 1300,570 L 1460,525"/>
 <!-- creases -->
 <path stroke-width="1.8" d="M 255,315 L 950,700 M 1050,700 L 1195,620 M 1000,780 L 990,1090 M 1040,1135 L 1230,1025 M 595,200 L 1010,430"/>
 <path stroke-width="1.8" d="M 270,610 C 300,640 320,700 325,760 L 360,930 M 285,705 L 330,940 M 340,780 L 370,920"/>
 <path stroke-width="1.8" d="M 150,1150 C 200,1170 260,1200 300,1260 C 320,1290 322,1320 320,1360"/>
 <path stroke-width="1.8" d="M 740,1190 C 760,1120 800,1040 875,910 M 760,1200 C 780,1120 800,1060 835,1015 M 825,1300 L 1045,1195 M 845,1280 L 960,1190 M 800,1580 L 975,1480 M 775,1380 L 750,1560"/>
 <path stroke-width="1.8" d="M 505,1310 L 515,1650 C 518,1700 525,1730 540,1745 M 540,1330 L 548,1640 M 575,1350 L 580,1560 M 745,1680 L 745,1998 M 700,2061 C 715,2055 725,2040 727,2021 M 763,2045 C 770,2080 780,2110 795,2125"/>
 <!-- exhaust flange -->
 <path stroke-width="3" fill="#fff" d="M 290,1010 C 290,985 310,970 340,970 L 390,945 L 735,1130 C 760,1150 770,1180 765,1220 L 760,1330 C 755,1370 730,1392 700,1388 L 420,1235 C 390,1220 360,1190 340,1160 L 300,1080 C 290,1060 288,1030 290,1010 Z"/>
 <path stroke-width="1.8" d="M 310,990 C 320,975 340,972 360,980 L 730,1160"/>
 <ellipse stroke-width="2.5" cx="365" cy="1090" rx="21" ry="27"/>
 <ellipse stroke-width="2.5" cx="700" cy="1285" rx="21" ry="27"/>
 <path stroke-width="3" d="M 432,1068 L 605,1160 C 633,1176 645,1200 642,1235 L 636,1305 L 470,1218 C 440,1203 425,1175 425,1140 L 426,1085 C 426,1072 429,1068 432,1068 Z"/>
 <path stroke-width="2" d="M 455,1090 L 600,1170 C 620,1182 628,1200 626,1225 L 622,1290 M 455,1090 L 450,1150 C 450,1175 460,1190 480,1200 L 622,1280"/>
 <!-- nut 51 -->
 <path stroke-width="3" fill="#fff" d="M 118,1925 C 118,1905 130,1898 150,1905 L 195,1935 C 205,1945 208,1955 205,1965 L 200,2000 C 198,2010 190,2015 180,2012 L 135,1990 C 122,1982 116,1972 116,1960 Z"/>
 <path stroke-width="2" d="M 128,1935 L 130,1980 L 180,2005 M 195,1950 L 190,2000"/>
 <ellipse stroke-width="2.2" cx="148" cy="1965" rx="18" ry="15"/>
 <path stroke-width="1.8" d="M 220,1930 L 310,1880"/>
 <!-- bolt 50 -->
 <ellipse stroke-width="3" fill="#fff" cx="1322" cy="1292" rx="48" ry="56" transform="rotate(-15 1322 1292)"/>
 <path stroke-width="3" fill="#fff" d="M 1300,1280 L 1220,1320 C 1205,1330 1205,1355 1220,1365 C 1230,1372 1245,1370 1252,1365 L 1310,1340"/>
 <path stroke-width="2" d="M 1240,1310 C 1230,1320 1235,1355 1250,1362 M 1265,1300 C 1255,1310 1258,1345 1272,1352 M 1290,1285 C 1280,1300 1282,1330 1298,1340"/>
</g>

<g transform="translate(1600,2260) scale(0.157576)" fill="none" stroke="#000" stroke-linejoin="round" stroke-linecap="round">
 <path stroke-width="3" d="M 55,280 C 60,230 100,205 160,210 L 870,590 C 960,640 1000,720 1005,800 L 1005,1160 C 1000,1220 960,1280 900,1340 L 820,1430 C 790,1460 750,1470 700,1455 L 160,1150 C 90,1110 55,1060 52,1000 Z"/>
 <path stroke-width="2" d="M 150,235 L 860,610 C 940,655 975,720 980,800 L 985,1160 C 982,1210 955,1260 900,1320"/>
 <path stroke-width="3" d="M 215,700 C 215,665 240,655 270,670 L 560,830 C 590,850 605,880 605,910 L 600,1050 C 598,1080 580,1085 555,1070 L 260,900 C 230,880 215,860 215,830 Z"/>
 <path stroke-width="2.5" d="M 255,700 L 540,860 C 570,875 580,900 580,930 L 578,1040 M 255,700 L 250,830 C 250,860 265,880 290,895 L 578,1060"/>
 <path stroke-width="3" d="M 95,860 L 100,690 C 105,665 140,665 150,690 L 155,890 M 120,690 L 122,860"/>
 <path stroke-width="3" d="M 660,1180 L 665,1010 C 670,985 705,985 715,1010 L 720,1215 M 685,1010 L 687,1180"/>
 <path stroke-width="3" d="M 760,180 C 760,140 790,110 830,95 L 870,80 C 900,65 930,65 960,80 L 1430,350 C 1470,375 1500,420 1520,470 L 1580,600 C 1600,650 1595,700 1560,730 L 1470,780 C 1430,800 1400,790 1360,770 L 900,500 C 870,480 850,450 835,420 L 775,280 C 765,250 760,215 760,180 Z"/>
 <path stroke-width="2" d="M 900,90 L 1440,395 C 1480,420 1500,450 1520,500 L 1570,620"/>
 <ellipse stroke-width="3" cx="878" cy="275" rx="30" ry="42" transform="rotate(-20 878 275)"/>
 <ellipse stroke-width="3" cx="1445" cy="600" rx="30" ry="42" transform="rotate(-20 1445 600)"/>
 <path stroke-width="3" d="M 968,265 C 968,235 990,230 1015,245 L 1300,410 C 1330,430 1350,460 1350,490 L 1345,640 C 1342,655 1330,657 1315,650 L 1010,470 C 980,450 965,420 965,390 Z"/>
 <path stroke-width="2.5" d="M 1005,255 L 1290,420 C 1320,440 1330,465 1330,495 L 1328,630 M 1005,255 L 1000,385 C 1000,415 1015,440 1040,455 L 1330,640"/>
</g>
<g fill="none" stroke="#000" stroke-linejoin="round" stroke-linecap="round">
 <!-- bolt 49 -->
 <ellipse stroke-width="3" fill="#fff" cx="2279" cy="2094" rx="13" ry="16" transform="rotate(-20 2279 2094)"/>
 <path stroke-width="3" fill="#fff" d="M 2268,2088 L 2232,2108 C 2224,2112 2224,2125 2232,2128 C 2236,2130 2240,2129 2243,2127 L 2276,2108"/>
 <path stroke-width="2" d="M 2240,2105 C 2236,2110 2238,2122 2244,2125 M 2248,2100 C 2244,2106 2246,2118 2252,2121 M 2256,2096 C 2252,2102 2254,2114 2260,2117 M 2264,2092 C 2260,2098 2262,2110 2268,2113"/>
</g>

<g transform="translate(340,2540) scale(0.327273)" fill="none" stroke="#000" stroke-linejoin="round" stroke-linecap="round">
 <!-- back plate -->
 <path stroke-width="3" d="M 605,75 L 620,22 C 625,14 635,12 645,18 L 1580,552 C 1590,560 1592,575 1588,590 L 1575,780 C 1572,792 1560,795 1550,790"/>
 <path stroke-width="2" d="M 640,55 L 1560,590 L 1550,760 M 625,95 L 640,55"/>
 <!-- tray outer -->
 <path stroke-width="3" d="M 232,205 C 235,198 240,196 250,194 L 680,92 C 690,88 700,90 710,96 L 1440,505 C 1448,512 1448,522 1440,528 L 1430,600"/>
 <path stroke-width="2" d="M 232,205 L 230,245 M 250,215 L 680,112 L 1425,525"/>
 <!-- inner tray -->
 <path stroke-width="3" d="M 310,248 L 712,150 C 720,148 725,150 730,155 L 1295,482 C 1305,490 1302,512 1290,518 L 905,588 C 895,590 885,588 878,584 L 318,272 C 308,265 305,255 310,248 Z"/>
 <path stroke-width="2.5" d="M 345,262 L 705,178 L 1268,498 L 900,568 L 345,268"/>
 <path stroke-width="2" d="M 490,318 L 688,272 L 1010,450 M 560,350 L 690,322 L 1045,520 M 490,318 L 560,350 M 700,175 L 705,215 M 360,240 L 480,215 M 1150,390 L 1240,440"/>
 <ellipse stroke-width="2.5" cx="940" cy="405" rx="18" ry="12"/>
 <!-- front rail -->
 <path stroke-width="3" d="M 195,258 C 198,250 205,248 212,250 L 865,615 C 875,622 878,630 875,640 L 868,690 L 855,692 M 205,330 L 830,680 M 195,258 L 205,330"/>
 <path stroke-width="3" d="M 870,632 L 1440,520 M 900,640 L 1350,560 L 1355,610 M 880,690 L 930,690 L 940,640"/>
 <!-- left leg and foot -->
 <path stroke-width="3" d="M 200,262 L 45,690 C 42,705 50,715 62,714 L 130,690 L 228,338"/>
 <path stroke-width="2" d="M 182,320 L 70,700 M 110,680 L 70,650 C 60,660 65,690 85,690"/>
 <path stroke-width="3" d="M 95,505 L 25,522 C 18,525 20,540 30,545 L 60,565 M 95,505 L 100,525"/>
 <path stroke-width="2" d="M 120,700 L 270,775 L 20,830 M 170,100 L 210,0"/>
 <!-- mid legs (left) -->
 <path stroke-width="3" d="M 260,360 C 230,390 225,450 235,510 C 240,540 260,545 280,540 L 320,430 M 300,520 L 330,430"/>
 <!-- bowl -->
 <path stroke-width="3" d="M 360,470 C 400,510 430,570 435,640 C 440,720 440,780 455,830 C 470,870 520,895 570,890 L 680,880 L 740,950"/>
 <path stroke-width="3" d="M 430,710 C 420,680 440,650 480,650 C 540,645 600,690 620,720 L 800,700 C 820,710 825,745 805,760 L 640,790 C 620,820 600,830 580,835"/>
 <ellipse stroke-width="2.5" cx="795" cy="732" rx="22" ry="35"/>
 <path stroke-width="2.5" d="M 580,835 C 540,840 520,860 540,870 L 780,830 M 560,855 L 770,815"/>
 <!-- right front leg -->
 <path stroke-width="3" d="M 860,635 L 720,1080 C 715,1095 730,1105 745,1098 L 770,1070 M 895,645 L 760,1070"/>
 <path stroke-width="3" d="M 760,960 C 790,945 830,940 870,945 L 950,985 L 945,1100 L 895,1105 L 870,1060 L 780,1050 L 765,1100"/>
 <ellipse stroke-width="2.5" cx="855" cy="972" rx="28" ry="14"/>
 <path stroke-width="2" d="M 800,1000 L 940,1010 M 870,1060 L 870,1000"/>
 <!-- right legs -->
 <path stroke-width="3" d="M 1065,620 L 1010,960 C 1005,990 1020,1000 1040,995 L 1100,970 L 1150,590"/>
 <path stroke-width="3" d="M 1040,640 L 920,980 M 1100,770 L 1160,760 L 1150,900 L 1100,930"/>
 <path stroke-width="2" d="M 1060,880 L 1140,860 M 1070,930 L 1130,910 M 1190,640 L 1180,900 C 1190,920 1210,915 1220,900 L 1240,620"/>
 <path stroke-width="3" d="M 1340,650 L 1420,640 L 1520,700 L 1560,690 L 1570,760 L 1540,780 L 1430,720 L 1410,780 L 1360,800 L 1320,760 L 1325,660"/>
 <ellipse stroke-width="2.5" cx="1430" cy="662" rx="24" ry="12"/>
 <path stroke-width="2" d="M 1290,780 L 1340,770 M 1250,800 L 1330,790"/>
 <path stroke-width="2" d="M 440,1030 L 630,990 L 700,1020 M 440,1030 L 640,1150 M 1510,500 L 1610,470 L 1650,290"/>
</g>

<g transform="translate(0,2700) scale(0.363636)" fill="none" stroke="#000" stroke-linejoin="round" stroke-linecap="round">
 <!-- bracket leader lines -->
 <path stroke-width="1.9" d="M 180,325 L 40,245 L 615,100 L 840,225 M 455,350 L 570,325 L 570,490 M 570,625 L 570,900 L 700,872 M 860,720 L 910,745 L 1270,655 M 1110,750 L 1210,730 L 1210,980 L 1260,970 M 1070,1170 L 1330,1105"/>
 <!-- spring 60 -->
 <path stroke-width="2.5" d="M 730,880 L 772,868 L 766,836 L 812,826 L 1030,768 L 1082,788 L 1142,775"/>
 <path stroke-width="2" d="M 735,890 L 782,878 L 776,846 L 815,836 L 1030,778 L 1080,798 L 1140,785"/>
 <!-- bolt 62 -->
 <path stroke-width="3" fill="#fff" d="M 198,1378 L 478,1312 C 492,1310 495,1335 482,1340 L 200,1412"/>
 <path stroke-width="2" d="M 365,1340 C 360,1352 362,1370 370,1375 M 395,1332 C 390,1345 392,1362 400,1368 M 425,1325 C 420,1338 422,1355 430,1360 M 455,1318 C 450,1330 452,1348 460,1352"/>
 <circle stroke-width="3" fill="#fff" cx="170" cy="1400" r="34"/>
 <circle stroke-width="2.5" cx="170" cy="1400" r="16"/>
 <!-- sleeve 59 -->
 <path stroke-width="3" fill="#fff" d="M 548,1280 L 762,1230 C 780,1228 785,1262 768,1268 L 555,1324"/>
 <ellipse stroke-width="3" fill="#fff" cx="550" cy="1302" rx="16" ry="23" transform="rotate(-13 550 1302)"/>
 <ellipse stroke-width="2" cx="551" cy="1302" rx="7" ry="10"/>
 <!-- gasket 58 -->
 <path stroke-width="3" d="M 830,1205 C 840,1150 900,1110 950,1105 C 990,1105 1020,1130 1040,1165 L 1075,1225 C 1085,1250 1070,1280 1040,1300 L 960,1420 C 935,1450 900,1450 880,1420 L 840,1300 C 828,1260 825,1230 830,1205 Z"/>
 <path stroke-width="1.8" d="M 845,1210 C 855,1160 905,1122 950,1120"/>
 <ellipse stroke-width="3" cx="955" cy="1232" rx="68" ry="95" transform="rotate(-10 955 1232)"/>
 <ellipse stroke-width="2.5" cx="860" cy="1222" rx="15" ry="22"/>
 <ellipse stroke-width="2.5" cx="1032" cy="1248" rx="15" ry="22"/>
</g>
<g transform="translate(430,2900) scale(0.333333)" fill="none" stroke="#000" stroke-linejoin="round" stroke-linecap="round">
 <!-- seal ring -->
 <path stroke-width="3" fill="#fff" d="M 305,215 L 308,245 C 320,280 380,300 430,300 C 490,300 540,280 548,245 L 550,215"/>
 <ellipse stroke-width="3" fill="#fff" cx="428" cy="212" rx="122" ry="55"/>
 <ellipse stroke-width="2.5" cx="428" cy="208" rx="75" ry="30"/>
 <path stroke-width="2" d="M 365,218 C 390,230 470,232 495,218"/>
 <path stroke-width="1.9" d="M 445,115 L 432,205"/>
 <!-- hose 57 -->
 <path stroke-width="3" fill="#fff" d="M 540,828 C 552,810 575,812 598,828 L 700,888 C 740,908 790,908 828,898 L 1270,624 C 1290,614 1302,640 1282,660 L 850,922 C 800,942 740,942 688,915 L 560,850 C 540,845 533,838 540,828 Z"/>
 <path stroke-width="1.9" d="M 1330,888 L 1120,768"/>
 <!-- grommet 56 -->
 <path stroke-width="3" fill="#fff" d="M 1340,580 C 1340,545 1360,525 1390,522 C 1420,522 1435,545 1432,580 L 1428,615 C 1420,630 1400,632 1385,625 L 1345,605 C 1335,598 1335,590 1340,580 Z"/>
 <path stroke-width="2.2" d="M 1360,565 L 1385,560 L 1390,590 L 1365,598 Z M 1370,545 C 1395,530 1420,540 1425,560"/>
</g>

<g transform="translate(0,2760) scale(0.193939)" fill="none" stroke="#000" stroke-linejoin="round" stroke-linecap="round">
 <!-- rod -->
 <path stroke-width="3" fill="#fff" d="M 700,455 L 1545,930 C 1560,960 1520,1040 1480,1035 L 610,560 Z"/>
 <path stroke-width="2" d="M 640,495 L 1500,965 M 660,480 L 1520,950"/>
 <!-- end -->
 <ellipse stroke-width="3" fill="#fff" cx="1510" cy="995" rx="38" ry="58" transform="rotate(-30 1510 995)"/>
 <ellipse stroke-width="2" cx="1515" cy="995" rx="26" ry="44" transform="rotate(-30 1515 995)"/>
 <path stroke-width="3" fill="#fff" d="M 1520,975 L 1580,985 C 1605,995 1610,1040 1580,1055 L 1530,1040"/>
 <ellipse stroke-width="2.5" cx="1580" cy="1020" rx="22" ry="36" transform="rotate(-30 1580 1020)"/>
 <!-- knob -->
 <path stroke-width="3" fill="#fff" d="M 420,270 C 460,252 510,245 550,250 L 675,330 C 640,340 600,355 580,365 C 530,390 490,440 485,500 C 485,560 520,610 560,625 L 520,645 L 440,780 C 425,805 400,815 380,805 L 250,740 C 230,725 228,700 240,670 L 335,520 C 325,480 325,420 345,360 C 360,315 385,285 420,270 Z"/>
 <path stroke-width="2.5" d="M 420,275 L 580,362 M 345,520 L 470,590 L 375,780 M 580,362 C 560,372 530,395 520,420"/>
 <path stroke-width="2.5" fill="#fff" d="M 560,625 C 600,615 640,590 660,560 L 700,490 C 690,440 670,400 640,380 C 620,370 595,365 580,365"/>
 <!-- bracket plate -->
 <path stroke-width="3" fill="#fff" d="M 605,440 L 760,310 C 790,290 830,300 840,330 C 845,360 830,400 800,430 L 770,460 L 700,490 L 640,530 L 600,510 Z"/>
 <ellipse stroke-width="2.5" cx="795" cy="375" rx="24" ry="20"/>
 <path stroke-width="2" d="M 625,450 L 770,330 M 575,460 L 610,480 M 570,520 L 610,530"/>
 <path stroke-width="3" fill="#fff" d="M 700,455 L 1545,930 L 1520,945 L 680,470 Z"/>
</g>

<g transform="translate(450,2990) scale(0.145455)" fill="none" stroke="#000" stroke-linejoin="round" stroke-linecap="round">
 <!-- body silhouette fill -->
 <path stroke-width="3" fill="#fff" d="M 300,265 C 305,240 320,230 345,222 L 720,130 C 740,120 790,115 820,130 L 1320,390 C 1340,400 1340,420 1330,440 L 1300,470 L 1310,560 L 1400,640 L 1470,690 L 1480,760 L 1430,770 L 1400,800 L 1460,880 L 1470,960 L 1420,1030 L 1350,1060 L 1300,1110 L 1250,1120 L 1140,1160 L 1040,1150 L 1000,1170 L 800,1200 L 780,1240 L 700,1250 L 650,1210 L 600,1180 L 380,1060 L 320,1030 L 260,1020 L 240,990 L 215,880 L 230,740 L 290,510 L 300,480 L 200,540 C 150,580 80,580 70,530 C 65,480 100,380 160,340 C 200,320 240,330 270,360 L 300,380 Z"/>
 <!-- top cover -->
 <path stroke-width="2.5" d="M 300,265 L 300,320 L 700,520 L 960,500 L 1300,470 M 310,300 L 700,505 M 700,520 L 700,640"/>
 <path stroke-width="2.5" d="M 510,220 C 470,270 500,330 580,370 M 600,150 C 750,140 900,170 1010,230 C 1080,270 1090,330 1040,370 C 1000,385 960,390 940,390 M 580,380 C 650,400 720,405 760,405"/>
 <ellipse stroke-width="2.5" cx="790" cy="265" rx="42" ry="16"/>
 <ellipse stroke-width="2.5" cx="1062" cy="445" rx="20" ry="10"/>
 <ellipse stroke-width="3" fill="#fff" cx="385" cy="250" rx="55" ry="30" transform="rotate(-15 385 250)"/>
 <path stroke-width="2" d="M 345,262 L 425,240"/>
 <ellipse stroke-width="3" fill="#fff" cx="1185" cy="330" rx="55" ry="30" transform="rotate(20 1185 330)"/>
 <path stroke-width="2" d="M 1145,320 L 1225,340"/>
 <ellipse stroke-width="3" fill="#fff" cx="805" cy="440" rx="50" ry="35" transform="rotate(25 805 440)"/>
 <path stroke-width="2" d="M 770,425 L 840,455"/>
 <path stroke-width="2.5" d="M 720,130 C 730,110 790,105 815,125"/>
 <!-- left tab and pin -->
 <path stroke-width="2.5" d="M 160,410 C 180,380 210,370 240,385 L 380,470 M 200,530 L 300,480"/>
 <ellipse stroke-width="2.5" cx="125" cy="525" rx="22" ry="18"/>
 <ellipse stroke-width="3" fill="#fff" cx="400" cy="460" rx="40" ry="72" transform="rotate(-20 400 460)"/>
 <!-- throttle bore -->
 <ellipse stroke-width="3" cx="545" cy="765" rx="160" ry="228" transform="rotate(-12 545 765)"/>
 <path stroke-width="2.5" d="M 430,640 L 470,605 L 715,790 L 680,830 Z M 520,690 L 600,680 L 640,780 L 560,800 Z M 470,710 C 480,800 530,880 560,900 L 600,900 L 610,940 C 620,960 650,960 660,940 M 440,800 C 460,870 500,930 560,970"/>
 <!-- small holes -->
 <ellipse stroke-width="2.5" cx="330" cy="745" rx="35" ry="45"/>
 <ellipse stroke-width="2.5" cx="760" cy="770" rx="42" ry="55"/>
 <ellipse stroke-width="2.5" cx="745" cy="925" rx="24" ry="34"/>
 <ellipse stroke-width="2.5" cx="855" cy="955" rx="40" ry="45"/>
 <path stroke-width="2.5" d="M 330,880 C 310,920 320,990 360,1000 C 400,1000 410,950 400,900 C 390,870 360,860 330,880 Z"/>
 <path stroke-width="2.5" d="M 700,1040 C 690,1080 710,1130 740,1140 C 770,1140 790,1100 780,1060 C 770,1030 720,1020 700,1040 Z"/>
 <path stroke-width="2" d="M 930,950 L 950,970 L 935,985 Z"/>
 <!-- right body -->
 <path stroke-width="2.5" d="M 700,640 L 800,640 L 860,620 C 920,640 960,700 970,770 L 980,860 L 900,870 L 890,780 C 880,720 850,690 800,680 M 800,640 L 790,820 L 830,900 M 820,540 L 940,510 L 940,600 M 980,540 L 1300,470 M 1000,760 L 1050,760 L 1100,740 L 1200,780 L 1230,880 M 960,760 L 1010,1000 L 1040,1150 M 1060,800 L 1070,1000 M 1120,1160 L 1140,1000"/>
 <path stroke-width="2.5" d="M 1300,470 L 1310,560 C 1350,580 1390,620 1400,650 L 1470,690 L 1480,760 L 1400,770"/>
 <!-- upper screw -->
 <path stroke-width="3" fill="#fff" d="M 1040,580 C 1070,550 1140,550 1200,570 L 1310,620 C 1350,640 1360,690 1340,720 L 1300,730 C 1260,750 1220,760 1190,750 L 1060,700 C 1030,690 1020,620 1040,580 Z"/>
 <path stroke-width="2.2" d="M 1070,570 C 1050,600 1050,660 1080,690 M 1100,560 C 1080,590 1080,660 1110,700 M 1130,555 C 1110,590 1110,670 1140,710 M 1160,558 C 1140,600 1140,680 1170,720 M 1190,565 C 1170,610 1170,690 1200,735 M 1230,620 C 1210,660 1210,720 1230,745 M 1280,630 C 1260,670 1265,710 1290,730"/>
 <!-- lower screw -->
 <path stroke-width="3" fill="#fff" d="M 1130,860 C 1160,820 1240,800 1290,800 L 1390,860 C 1450,880 1470,940 1450,990 C 1430,1020 1400,1040 1370,1040 L 1260,1060 C 1220,1060 1180,1040 1160,1000 L 1130,940 C 1120,910 1120,880 1130,860 Z"/>
 <path stroke-width="2.2" d="M 1230,820 C 1190,870 1190,950 1230,1010 M 1260,810 C 1220,860 1220,960 1260,1030 M 1290,805 C 1250,860 1250,960 1290,1040 M 1320,830 C 1280,880 1280,960 1320,1030"/>
 <ellipse stroke-width="2.5" cx="1410" cy="945" rx="40" ry="58" transform="rotate(-20 1410 945)"/>
 <path stroke-width="2.5" d="M 1280,1080 C 1300,1060 1330,1050 1350,1060 L 1360,1100 L 1300,1120 Z"/>
 <!-- feet -->
 <ellipse stroke-width="2.5" cx="290" cy="1010" rx="40" ry="20"/>
 <ellipse stroke-width="2.5" cx="720" cy="1225" rx="60" ry="26"/>
 <path stroke-width="2" d="M 240,990 L 720,1180 M 720,1180 L 780,1190 L 1010,1150"/>
</g>

<text class="t" x="640.5" y="379.5" text-anchor="middle">35</text>
<text class="t" x="328.8" y="736.0" text-anchor="middle">36</text>
<text class="t" x="1010.5" y="150.0" text-anchor="middle">37</text>
<text class="t" x="1235.2" y="627.0" text-anchor="middle">38</text>
<text class="t" x="1195.5" y="793.0" text-anchor="middle">39</text>
<text class="t" x="1164.5" y="1329.5" text-anchor="middle">40</text>
<text class="t" x="1849.5" y="1117.0" text-anchor="middle">41</text>
<text class="t" x="1598.8" y="1543.0" text-anchor="middle">42</text>
<text class="t" x="247.5" y="1288.6" text-anchor="middle">43</text>
<text class="t" x="747.7" y="1316.0" textLength="36.3" lengthAdjust="spacingAndGlyphs">177</text>
<text class="t" x="55.0" y="1625.5" textLength="39.0" lengthAdjust="spacingAndGlyphs">176</text>
<text class="t" x="941.9" y="2095.5" text-anchor="middle">44</text>
<text class="t" x="873.8" y="2373.6" text-anchor="middle">45</text>
<text class="t" x="1682.5" y="2239.0" text-anchor="middle">46</text>
<text class="t" x="1766.5" y="2189.0" text-anchor="middle">47</text>
<text class="t" x="2020.5" y="1858.7" text-anchor="middle">48</text>
<text class="t" x="2269.5" y="2226.0" text-anchor="middle">49</text>
<text class="t" x="2151.5" y="2400.0" text-anchor="middle">50</text>
<text class="t" x="1840.3" y="2572.7" text-anchor="middle">51</text>
<text class="t" x="1182.8" y="2794.5" text-anchor="middle">52</text>
<text class="t" x="992.7" y="2825.5" text-anchor="middle">53</text>
<text class="t" x="1095.2" y="2400.0" text-anchor="middle">54</text>
<text class="t" x="750.5" y="3044.5" text-anchor="middle">55</text>
<text class="t" x="998.5" y="3166.0" text-anchor="middle">56</text>
<text class="t" x="898.5" y="3223.0" text-anchor="middle">57</text>
<text class="t" x="226.2" y="3092.7" text-anchor="middle">58</text>
<text class="t" x="146.2" y="3111.0" text-anchor="middle">59</text>
<text class="t" x="397.8" y="3067.0" text-anchor="middle">60</text>
<text class="t" x="115.3" y="2996.0" text-anchor="middle">61</text>
<text class="t" x="37.0" y="3138.0" text-anchor="middle">62</text>
</svg></body></html>
